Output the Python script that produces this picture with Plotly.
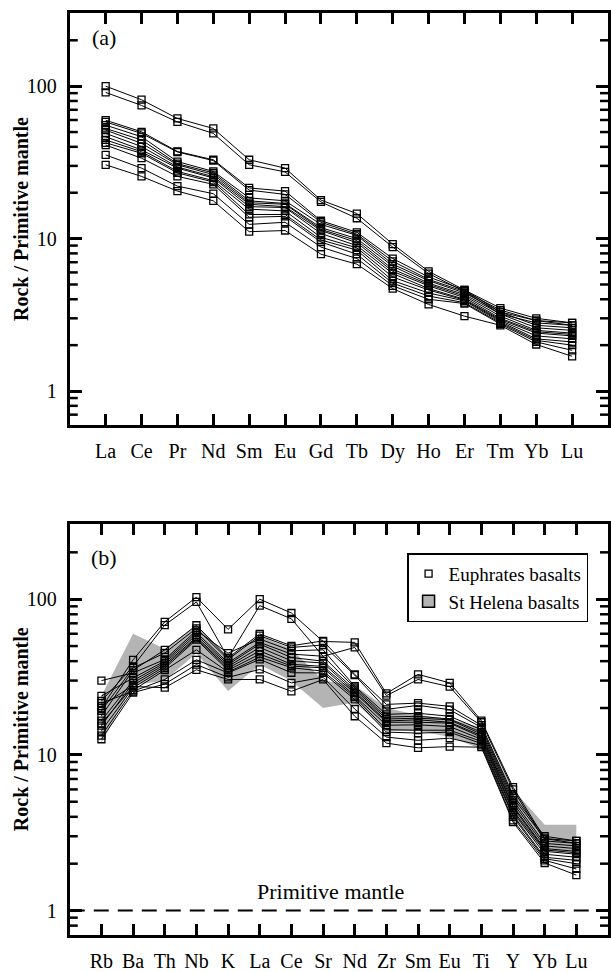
import plotly.graph_objects as go

# ---- element order for each diagram ----
ree = ["La", "Ce", "Pr", "Nd", "Sm", "Eu", "Gd", "Tb", "Dy", "Ho", "Er", "Tm", "Yb", "Lu"]
spider = ["Rb", "Ba", "Th", "Nb", "K", "La", "Ce", "Sr", "Nd", "Zr", "Sm", "Eu", "Ti", "Y", "Yb", "Lu"]

# ---- Euphrates basalts, primitive-mantle normalised (one value per sample) ----
La = [100, 91, 59.8, 58.3, 55.5, 52.8, 51.5, 49, 46.6, 44.4, 42.5, 41.1, 35.4, 30.5]
Ce = [81.5, 74.8, 50.2, 49, 46.6, 44.4, 42.2, 40.2, 38.2, 37.2, 36.3, 33.7, 29, 25.6]
Pr = [61.4, 58.3, 37.3, 37.0, 32, 31, 30.5, 29.5, 29, 27.6, 27, 25.6, 22.1, 20.5]
Nd = [52.8, 49, 32.9, 32.5, 27.6, 27, 26.3, 25.5, 25, 24, 23.5, 22.7, 19.7, 17.7]
Sm = [32.9, 30.5, 21.5, 20.8, 18.5, 17.7, 17.2, 16.8, 16.2, 15.6, 14.4, 13.8, 12.4, 11.1]
Eu = [29, 27.4, 20.5, 19.5, 17.7, 17, 16.8, 16.2, 16, 15.2, 14.4, 14, 12.8, 11.3]
Gd = [17.9, 17.4, 13.1, 12.8, 12.4, 11.8, 11.5, 11.3, 10.8, 10.2, 9.8, 9.5, 8.8, 7.9]
Tb = [14.6, 13.6, 11.0, 10.7, 10.5, 10.0, 9.7, 9.4, 9.0, 8.7, 8.4, 7.9, 7.4, 6.8]
Dy = [9.2, 8.8, 7.4, 7.1, 6.8, 6.6, 6.3, 6.1, 5.9, 5.6, 5.3, 5.1, 4.9, 4.7]
Ho = [6.1, 5.9, 5.6, 5.4, 5.3, 5.1, 5.0, 4.9, 4.7, 4.6, 4.4, 4.2, 4.0, 3.7]
Er = [4.6, 4.5, 4.6, 4.5, 4.4, 4.3, 4.2, 4.1, 4.0, 3.95, 3.9, 3.8, 3.75, 3.1]
Tm = [3.3, 3.2, 3.5, 3.4, 3.3, 3.2, 3.1, 3.0, 2.95, 2.9, 2.85, 2.8, 2.75, 2.7]
Yb = [2.9, 2.8, 3.0, 2.9, 2.7, 2.6, 2.5, 2.45, 2.4, 2.3, 2.2, 2.15, 2.1, 2.02]
Lu = [2.8, 2.7, 2.8, 2.7, 2.6, 2.5, 2.4, 2.35, 2.3, 2.2, 2.1, 2.0, 1.85, 1.69]

Rb = [20, 22.2, 17.8, 19.2, 30, 23.9, 16.6, 15.4, 20.6, 14.3, 13.3, 21.5, 12.6, 15.9]
Ba = [40.8, 37, 35, 36.2, 33.6, 31.2, 30, 29, 28, 27, 26, 25.5, 25.1, 27.5]
Th = [71.6, 68.2, 47.3, 45.1, 41, 40, 39, 38, 37, 36, 35, 30.5, 28.5, 27]
Nb = [103, 96, 68, 65, 63, 61, 59, 57, 56, 55, 47.3, 40.8, 38, 35.2]
K = [64, 42, 42, 41, 45, 39, 38, 37, 36, 35, 34, 33.6, 31.5, 30.5]
Sr = [53.5, 43, 54, 50.8, 47.3, 43, 40, 38.9, 37, 36.2, 34.5, 33.6, 31.5, 30.5]
Zr = [24.8, 24, 21.1, 19.6, 18.2, 17.5, 17, 16.5, 16.2, 15.5, 14.5, 14, 13, 11.9]
Ti = [16.6, 16.2, 15.5, 15, 14.5, 14, 13.6, 13.3, 13, 12.6, 12.2, 11.8, 11.5, 11.2]
Y = [6.2, 6.0, 5.5, 5.3, 5.1, 4.9, 4.7, 4.6, 4.4, 4.3, 4.1, 4.0, 3.8, 3.7]

# ---- St Helena basalts field (upper / lower envelope on the spider diagram) ----
helena_upper = [24, 60, 48, 68, 42, 58, 48, 30, 28, 20, 18, 17, 15, 6.0, 3.56, 3.56]
helena_lower = [12, 28, 30, 45, 25.7, 38, 29.8, 20, 21.7, 14.3, 14.3, 13, 10.9, 4.0, 2.4, 2.4]

# ---- y-axis ticks ----
major_vals = [1, 10, 100]
major_text = ["1", "10", "100"]
minor_vals = [0.7, 0.8, 0.9, 2, 3, 4, 5, 6, 7, 8, 9,
              20, 30, 40, 50, 60, 70, 80, 90, 200]

chem = {"La": La, "Ce": Ce, "Pr": Pr, "Nd": Nd, "Sm": Sm, "Eu": Eu, "Gd": Gd, "Tb": Tb,
        "Dy": Dy, "Ho": Ho, "Er": Er, "Tm": Tm, "Yb": Yb, "Lu": Lu, "Rb": Rb, "Ba": Ba,
        "Th": Th, "Nb": Nb, "K": K, "Sr": Sr, "Zr": Zr, "Ti": Ti, "Y": Y}
n_samples = len(La)

FONT = "Liberation Serif, Times New Roman, Times, serif"
GREY = "#b4b4b4"
W, H = 611, 972
xdom = [70 / W, 610 / W]
plot_w = (xdom[1] - xdom[0]) * W

fig = go.Figure()

# St Helena field underneath the sample lines
sx = list(range(1, len(spider) + 1))
fig.add_trace(go.Scatter(
    x=sx + sx[::-1], y=helena_upper + helena_lower[::-1],
    fill="toself", fillcolor=GREY, mode="lines", line=dict(width=0),
    hoverinfo="skip", showlegend=False, xaxis="x2", yaxis="y2"))

# primitive mantle reference line
fig.add_trace(go.Scatter(
    x=[0, len(spider) + 1], y=[1, 1], mode="lines",
    line=dict(color="black", width=2, dash="15px,9px"),
    showlegend=False, xaxis="x2", yaxis="y2"))

marker = dict(symbol="square-open", size=7, color="black", line=dict(width=1.3, color="black"))
line = dict(color="black", width=1)

for s in range(n_samples):
    fig.add_trace(go.Scatter(
        x=list(range(1, len(ree) + 1)), y=[chem[e][s] for e in ree],
        mode="lines+markers", marker=marker, line=line,
        showlegend=False, xaxis="x", yaxis="y"))
    fig.add_trace(go.Scatter(
        x=sx, y=[chem[e][s] for e in spider],
        mode="lines+markers", marker=marker, line=line,
        showlegend=False, xaxis="x2", yaxis="y2"))

# short minor ticks just inside both vertical frame edges
TICK_PX = 8
tick_size = TICK_PX / 1.4            # line-ew length is 1.4 x marker size
for xa, ya, n in (("x", "y", len(ree)), ("x2", "y2", len(spider))):
    half = (TICK_PX / 2) / (plot_w / (n + 1))   # half tick length in x units
    for edge in (half, n + 1 - half):
        fig.add_trace(go.Scatter(
            x=[edge] * len(minor_vals), y=minor_vals, xaxis=xa, yaxis=ya,
            mode="markers", cliponaxis=False,
            marker=dict(symbol="line-ew", size=tick_size, color="black",
                        line=dict(width=2.5, color="black")),
            showlegend=False, hoverinfo="skip"))

# legend entries
fig.add_trace(go.Scatter(
    x=[None], y=[None], mode="markers", name="Euphrates basalts",
    marker=marker, xaxis="x2", yaxis="y2", legendrank=1))
fig.add_shape(type="rect", xref="paper", yref="paper", x0=-2, x1=-1.9, y0=-2, y1=-1.9,
              fillcolor=GREY, line=dict(color="black", width=1.5),
              showlegend=True, name="St Helena basalts", legendrank=2)

tickfont = dict(family=FONT, size=20, color="black")


def xaxis_cfg(names, anchor):
    return dict(
        domain=xdom, anchor=anchor, range=[0, len(names) + 1],
        tickmode="array", tickvals=list(range(1, len(names) + 1)), ticktext=names,
        ticks="inside", ticklen=11, tickwidth=2.5, tickcolor="black",
        showline=True, linewidth=3, linecolor="black", mirror="ticks",
        showgrid=False, zeroline=False, ticklabelstandoff=6, tickfont=tickfont)


def yaxis_cfg(dom, rng, anchor):
    return dict(
        domain=dom, anchor=anchor, type="log", range=rng,
        tickmode="array", tickvals=major_vals, ticktext=major_text,
        ticks="inside", ticklen=12, tickwidth=2.5, tickcolor="black",
        showline=True, linewidth=3, linecolor="black", mirror="ticks",
        showgrid=False, zeroline=False, ticklabelstandoff=6, tickfont=tickfont)


rng_a = [-0.222, 2.479]
rng_b = [-0.1545, 2.484]
dom_a = [1 - 429.3 / H, 1 - 13.3 / H]
dom_b = [1 - 944.3 / H, 1 - 529.3 / H]

title_font = dict(family=FONT, size=20, color="black")
annotations = []
for dom in (dom_a, dom_b):
    annotations.append(dict(
        text="<b>Rock / Primitive mantle</b>", textangle=-90,
        x=21 / W, y=(dom[0] + dom[1]) / 2, xref="paper", yref="paper",
        xanchor="center", yanchor="middle", showarrow=False, font=title_font))
annotations += [
    dict(text="(a)", x=104 / W, y=1 - 38 / H, xref="paper", yref="paper",
         xanchor="center", yanchor="middle",
         showarrow=False, font=dict(family=FONT, size=22, color="black")),
    dict(text="(b)", x=104 / W, y=1 - 563 / H, xref="paper", yref="paper",
         xanchor="center", yanchor="middle",
         showarrow=False, font=dict(family=FONT, size=22, color="black")),
    dict(text="Primitive mantle", x=332 / W, y=1 - 901 / H, xref="paper", yref="paper",
         xanchor="center", yanchor="middle",
         showarrow=False, font=dict(family=FONT, size=22, color="black")),
]

fig.update_layout(
    width=W, height=H, margin=dict(l=0, r=0, t=0, b=0),
    paper_bgcolor="white", plot_bgcolor="white",
    xaxis=xaxis_cfg(ree, "y"),
    yaxis=yaxis_cfg(dom_a, rng_a, "x"),
    xaxis2=xaxis_cfg(spider, "y2"),
    yaxis2=yaxis_cfg(dom_b, rng_b, "x2"),
    legend=dict(x=590 / W, y=1 - 559 / H, xanchor="right", yanchor="top",
                bordercolor="black", borderwidth=1.5, bgcolor="white",
                font=dict(family=FONT, size=19, color="black"),
                tracegroupgap=2),
    annotations=annotations,
)

fig.write_html("out.html")
